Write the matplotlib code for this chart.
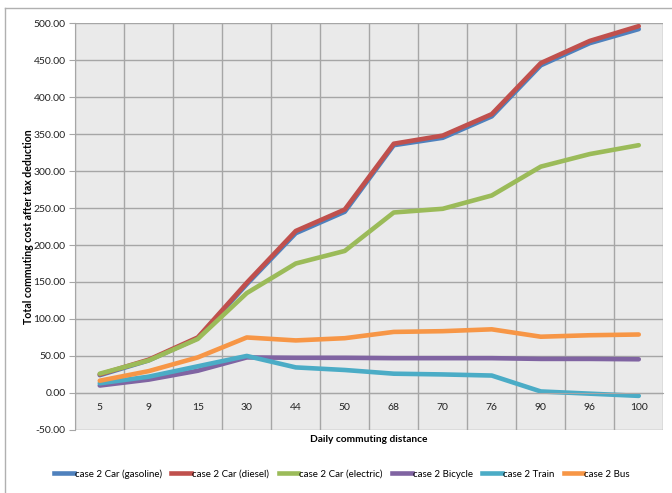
import matplotlib.pyplot as plt
from matplotlib.lines import Line2D
from matplotlib.ticker import FormatStrFormatter, MultipleLocator
import numpy as np

plt.rcParams['font.family'] = ['Lato', 'DejaVu Sans']

# Daily commuting distance (categories)
distances = ['5', '9', '15', '30', '44', '50', '68', '70', '76', '90', '96', '100']

# Total commuting cost after tax deduction per mode
car_gasoline = [24, 44, 74, 147, 216, 245, 335, 345, 374, 443, 473, 492]
car_diesel = [25, 45, 75, 149, 219, 248, 337, 348, 377, 446, 476, 496]
car_electric = [26, 44, 73, 135, 175, 192, 244, 249, 267, 306, 323, 335]
bicycle = [10, 18, 30, 48, 47.5, 47.5, 47, 47, 47, 46, 46, 45.5]
train = [13, 22, 36, 50, 34.5, 31, 26, 25, 23.5, 2, -1, -4]
bus = [16.5, 29.5, 48, 75, 71, 74, 82.5, 83.5, 86, 76, 78, 79]

series = [
    ('case 2 Car (gasoline)', car_gasoline, '#4F81BD'),
    ('case 2 Car (diesel)', car_diesel, '#C0504D'),
    ('case 2 Car (electric)', car_electric, '#9BBB59'),
    ('case 2 Bicycle', bicycle, '#8064A2'),
    ('case 2 Train', train, '#4BACC6'),
    ('case 2 Bus', bus, '#F79646'),
]

fig = plt.figure(figsize=(6.72, 4.93), dpi=100)
ax = fig.add_axes([0.112, 0.128, 0.875, 0.825])
ax.set_facecolor('#EAEAEA')

x = np.arange(len(distances))
for name, vals, col in series:
    ax.plot(x, vals, color=col, lw=3.3, label=name, solid_capstyle='round')

ax.set_xlim(-0.5, len(distances) - 0.5)
ax.set_ylim(-50, 500)
ax.yaxis.set_major_locator(MultipleLocator(50))
ax.yaxis.set_major_formatter(FormatStrFormatter('%.2f'))

# category labels sit under the zero line, gridlines between categories
ax.set_xticks(x)
ax.set_xticklabels(distances)
ax.set_xticks(np.arange(-0.5, len(distances)), minor=True)
ax.spines['bottom'].set_position(('data', 0))
ax.spines['bottom'].set_color('#A6A6A6')
ax.tick_params(axis='x', which='both', length=0, pad=7, labelsize=7.5, colors='#222222')
ax.tick_params(axis='y', length=4, color='#A6A6A6', pad=3, labelsize=7.5, labelcolor='#222222')

ax.grid(True, axis='y', which='major', color='#A6A6A6', lw=1)
ax.grid(True, axis='x', which='minor', color='#A6A6A6', lw=1)
ax.set_axisbelow(True)
for side in ['top', 'right']:
    ax.spines[side].set_visible(False)
ax.spines['left'].set_color('#A6A6A6')

fig.text(0.549, 0.108, 'Daily commuting distance', ha='center', va='center',
         fontsize=7.3, fontweight='bold')
fig.text(0.042, 0.54, 'Total commuting cost after tax deduction', ha='center', va='center',
         rotation=90, fontsize=7.6, fontweight='bold')

handles = [Line2D([0], [0], color=c, lw=3.3) for _, _, c in series]
labels = [n for n, _, _ in series]
fig.legend(handles, labels, loc='center', bbox_to_anchor=(0.509, 0.039), ncol=6,
           frameon=False, fontsize=7, handlelength=2.0, handletextpad=0.1,
           columnspacing=1.0)

# chart area border
fig.add_artist(Line2D([5 / 672, 5 / 672], [0, 1 - 8 / 493], color='#B0B0B0', lw=1))
fig.add_artist(Line2D([5 / 672, 1], [1 - 8 / 493, 1 - 8 / 493], color='#B0B0B0', lw=1))

fig.savefig('out.png', dpi=100)
